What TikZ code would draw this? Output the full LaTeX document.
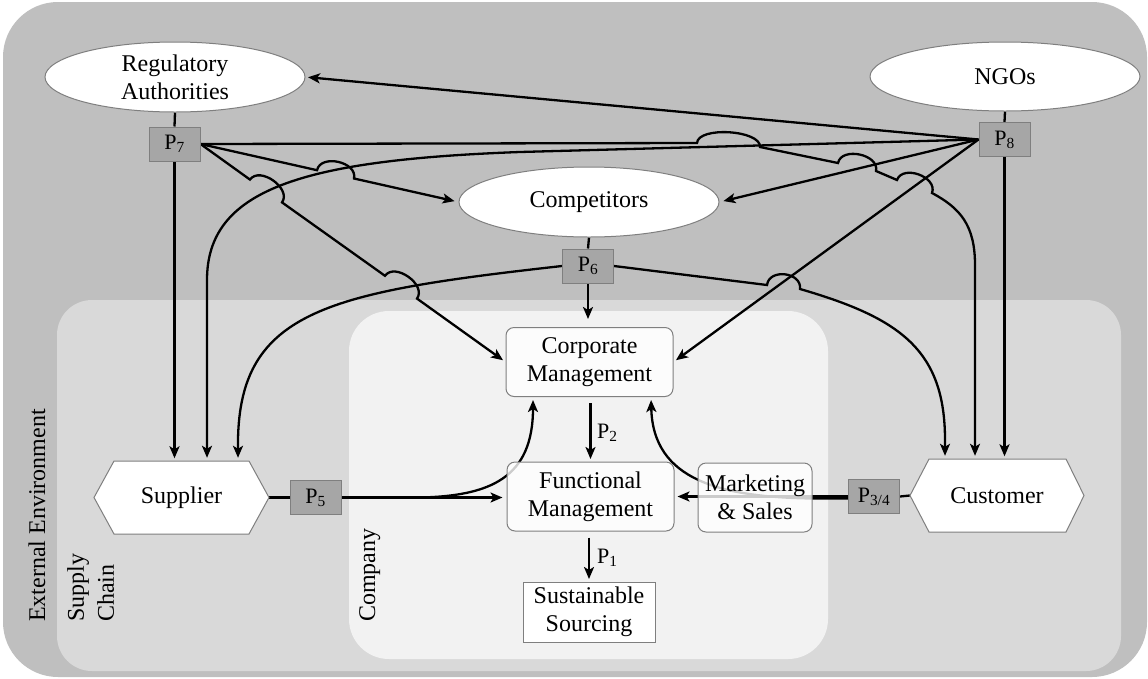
\documentclass[tikz,border=0pt]{standalone}
\usepackage{fontspec}
\setmainfont{Liberation Serif}
\usetikzlibrary{calc,arrows.meta,shapes.geometric}
\definecolor{outerbg}{HTML}{BFBFBF}
\definecolor{supbg}{HTML}{D9D9D9}
\definecolor{compbg}{HTML}{F2F2F2}
\definecolor{pgray}{HTML}{A6A6A6}
\definecolor{bordergray}{HTML}{7F7F7F}
\pgfdeclarelayer{bg}
\pgfdeclarelayer{lines}
\pgfsetlayers{bg,lines,main}
% line hop bulging upwards between two points of a left-to-right line
\newcommand\hop[2]{.. controls ($#1!17pt!90:#2$) and ($#2!17pt!-90:#1$) .. #2}
\tikzset{
  every node/.style={font=\fontsize{24}{28}\selectfont},
  ln/.style={line width=2.3pt, black},
  arr/.style={ln, -{Stealth[length=12pt,width=10pt,inset=3pt]}, shorten >=2.5pt},
  ell/.style={ellipse, draw=bordergray, line width=1pt, fill=white, inner sep=0},
  pbox/.style={draw=bordergray, line width=1pt, fill=pgray, minimum width=51, minimum height=34, inner sep=0, font=\fontsize{22}{24}\selectfont},
  mbox/.style={draw=bordergray, line width=1pt, fill=white, fill opacity=0.8, text opacity=1, rounded corners=8pt, align=center, inner sep=0, minimum height=69},
  hex/.style={draw=bordergray, line width=1pt, fill=white},
  plain/.style={inner sep=0},
  rlabel/.style={rotate=90, inner sep=0},
}
\begin{document}
\begin{tikzpicture}[x=1pt,y=-1pt]
\useasboundingbox (0,0) rectangle (1148,678);
\begin{pgfonlayer}{bg}
\fill[outerbg, rounded corners=55pt] (3,2) rectangle (1147,677);
\fill[supbg, rounded corners=35pt] (57,300) rectangle (1121,671);
\fill[compbg, rounded corners=40pt] (349,311) rectangle (828,659);
\end{pgfonlayer}

% region labels
\node[rlabel, anchor=base west] (extlbl) at (45,622) {External Environment};
\node[rlabel, anchor=north west, align=left, font=\fontsize{24}{30}\selectfont] (sclbl) at (67,622) {Supply\\Chain};
\node[rlabel, anchor=base west] (complbl) at (375,622) {Company};

% ellipses
\node[ell, minimum width=260, minimum height=70] (reg) at (175,77) {};
\node[plain, align=center] (regtxt) at (reg) {Regulatory\\Authorities};
\node[ell, minimum width=270, minimum height=69] (ngo) at (1005,76.5) {};
\node[plain] (ngotxt) at (ngo) {NGOs};
\node[ell, minimum width=260, minimum height=70] (comp) at (589,202) {};
\node[plain] (comptxt) at (comp) {Competitors};

% P boxes
\node[pbox] (p7) at (174.5,144) {P\textsubscript{7}};
\node[pbox] (p8) at (1004.5,139.5) {P\textsubscript{8}};
\node[pbox] (p6) at (588,266) {P\textsubscript{6}};
\node[pbox] (p5) at (315.5,497.5) {P\textsubscript{5}};
\node[pbox] (p34) at (874,496.5) {P\textsubscript{3/4}};

% hexagons
\draw[hex] (94,497.5) -- (114,461) -- (249,461) -- (269,497.5) -- (249,534) -- (114,534) -- cycle;
\node[plain, minimum width=175, minimum height=73] (sup) at (181.5,497.5) {Supplier};
\draw[hex] (910,495.5) -- (929,459) -- (1066,459) -- (1084,495.5) -- (1066,532) -- (929,532) -- cycle;
\node[plain, minimum width=174, minimum height=73] (cust) at (997,495.5) {Customer};

% company boxes
\node[mbox, minimum width=167] (corp) at (589.5,362) {Corporate\\Management};
\node[mbox, minimum width=167] (func) at (590.5,496.5) {Functional\\Management};
\node[mbox, minimum width=114] (mkt) at (755,497.5) {Marketing\\\& Sales};
\node[draw=bordergray, line width=1pt, fill=white, align=center, inner sep=0, minimum width=132, minimum height=60] (sust) at (589,612) {Sustainable\\Sourcing};

% internal arrow labels
\node[plain, anchor=west, font=\fontsize{22}{24}\selectfont] (p2) at (597,433) {P\textsubscript{2}};
\node[plain, anchor=west, font=\fontsize{22}{24}\selectfont] (p1) at (597,558) {P\textsubscript{1}};

\begin{pgfonlayer}{lines}
% stems
\draw[ln] (reg.south) -- (p7.north);
\draw[ln] (ngo.south) -- (p8.north);
\draw[ln] (comp.south) -- (p6.north);
% vertical arrows
\draw[arr] (p7.south) -- (p7.south |- sup.north);
\draw[arr] (p8.south) -- (p8.south |- cust.north);
\draw[arr, shorten >=8pt] (p6.south) -- (p6.south |- corp.north);
\draw[arr, shorten <=6pt] (func.north |- corp.south) -- (func.north);
\draw[arr, shorten <=6pt] (sust.north |- func.south) -- (sust.north);
% from P8
\draw[arr] (p8.west) -- (reg.east);
\draw[arr, shorten >=4pt] (p8.west) -- (comp.east);
\draw[arr, shorten >=3pt] (p8.west) -- (corp.east);
\draw[arr, shorten >=3pt] (p8.west) -- (520,152) .. controls (300,160) and (207,190) .. (207,280) -- (207,0 |- sup.north);
% from P7
\draw[arr, shorten >=4pt] (p7.east) -- (317,170.2) \hop{(317,170.2)}{(354,178.5)} -- (comp.west);
\draw[arr, shorten >=3pt] (p7.east) -- (250,179.6) \hop{(250,179.6)}{(282,202.4)} -- (385,275.8) \hop{(385,275.8)}{(417,298.6)} -- (corp.west);
\draw[arr, shorten >=3pt] (p7.east) -- (697,143) \hop{(697,143)}{(760,147)} -- (838,163) \hop{(838,163)}{(876,171)} -- (897,180) \hop{(897,180)}{(932,193)} .. controls (960,208) and (975,225) .. (975,265) -- (975,0 |- cust.north);
% from P6
\draw[arr, shorten >=3pt] (p6.west) .. controls (330,292) and (240,310) .. (238,440) -- (238,0 |- sup.north);
\draw[arr, shorten >=3pt] (p6.east) -- (767,285) \hop{(767,285)}{(800,289)} .. controls (900,318) and (945,350) .. (945,440) -- (945,0 |- cust.north);
% supplier side
\draw[ln] (sup.east) -- (p5.west);
\draw[arr, shorten >=4pt] (p5.east) -- (p5.east -| func.west);
\draw[arr, shorten >=3pt] (p5.east) -- (420,497.5) .. controls (490,496) and (533,478) .. (533,0 |- corp.south);
% customer side
\draw[ln] (cust.west) -- (p34.east);
\draw[arr, shorten >=3pt] (p34.west) -- (p34.west -| func.east);
\draw[arr, shorten >=3pt] ($(p34.west)+(0,2)$) -- (812,498.5) .. controls (720,497) and (653,480) .. (651,0 |- corp.south);
\end{pgfonlayer}
\end{tikzpicture}
\end{document}
